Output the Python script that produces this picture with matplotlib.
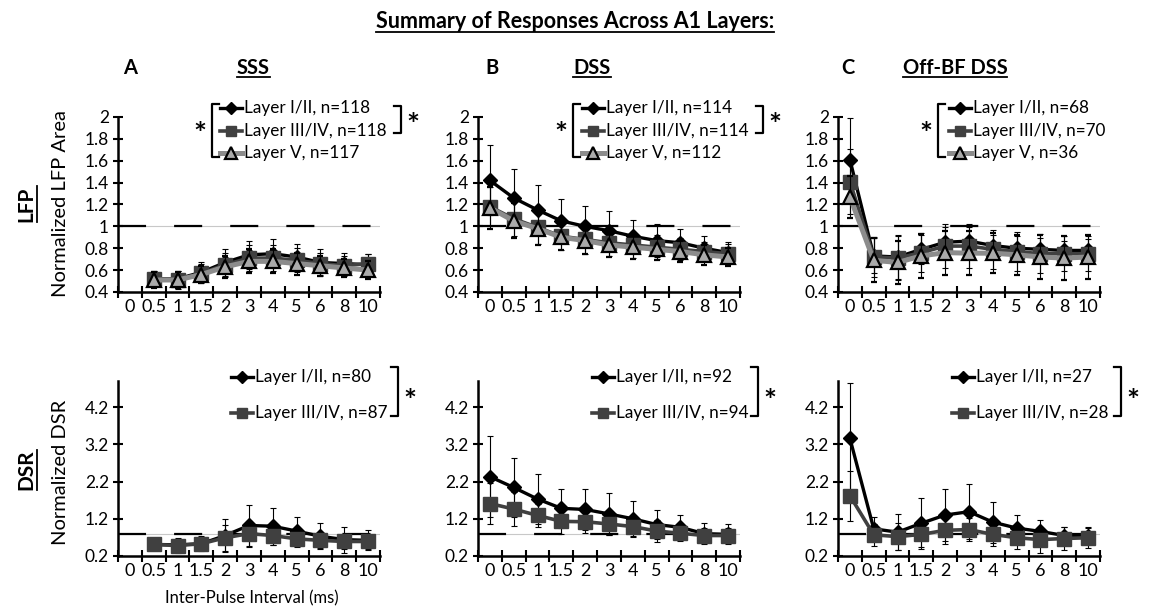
import numpy as np
import matplotlib
matplotlib.use("Agg")
import matplotlib.pyplot as plt
from matplotlib.lines import Line2D

plt.rcParams['font.family'] = ['Lato', 'DejaVu Sans']

W, H = 1149, 608
nan = np.nan

categories = ['0', '0.5', '1', '1.5', '2', '3', '4', '5', '6', '8', '10']

# ---- LFP (top row) ----
lfp_sss_l12 = [nan, 0.52, 0.52, 0.58, 0.67, 0.74, 0.75, 0.72, 0.67, 0.66, 0.65]
lfp_sss_l34 = [nan, 0.52, 0.51, 0.57, 0.65, 0.71, 0.71, 0.69, 0.66, 0.64, 0.66]
lfp_sss_l5 = [nan, 0.51, 0.51, 0.56, 0.63, 0.68, 0.68, 0.66, 0.64, 0.62, 0.60]
lfp_sss_e12 = [nan, 0.07, 0.07, 0.09, 0.12, 0.13, 0.13, 0.12, 0.12, 0.10, 0.10]
lfp_sss_e34 = [nan, 0.07, 0.08, 0.09, 0.11, 0.12, 0.12, 0.11, 0.10, 0.09, 0.09]
lfp_sss_e5 = [nan, 0.07, 0.07, 0.08, 0.10, 0.11, 0.11, 0.10, 0.09, 0.08, 0.08]

lfp_dss_l12 = [1.42, 1.26, 1.15, 1.05, 1.00, 0.96, 0.91, 0.87, 0.85, 0.80, 0.76]
lfp_dss_l34 = [1.18, 1.07, 0.99, 0.91, 0.88, 0.85, 0.83, 0.81, 0.79, 0.77, 0.75]
lfp_dss_l5 = [1.17, 1.05, 0.98, 0.90, 0.87, 0.83, 0.81, 0.79, 0.77, 0.74, 0.72]
lfp_dss_e12 = [0.32, 0.26, 0.23, 0.20, 0.19, 0.18, 0.15, 0.15, 0.13, 0.11, 0.10]
lfp_dss_e34 = [0.18, 0.16, 0.15, 0.13, 0.13, 0.12, 0.12, 0.11, 0.10, 0.09, 0.09]
lfp_dss_e5 = [0.19, 0.16, 0.15, 0.12, 0.12, 0.11, 0.11, 0.10, 0.10, 0.09, 0.08]

lfp_off_l12 = [1.61, 0.73, 0.72, 0.79, 0.855, 0.865, 0.825, 0.80, 0.79, 0.78, 0.78]
lfp_off_l34 = [1.41, 0.72, 0.71, 0.76, 0.82, 0.82, 0.79, 0.77, 0.75, 0.75, 0.75]
lfp_off_l5 = [1.27, 0.69, 0.67, 0.73, 0.76, 0.755, 0.755, 0.74, 0.72, 0.71, 0.72]
lfp_off_e12 = [0.38, 0.16, 0.20, 0.13, 0.14, 0.13, 0.10, 0.11, 0.10, 0.09, 0.10]
lfp_off_e34 = [0.30, 0.18, 0.20, 0.18, 0.20, 0.20, 0.18, 0.18, 0.18, 0.16, 0.16]
lfp_off_e5 = [0.19, 0.20, 0.20, 0.20, 0.20, 0.20, 0.18, 0.18, 0.20, 0.20, 0.20]

# ---- DSR (bottom row) ----
dsr_sss_l12 = [nan, 0.51, 0.50, 0.53, 0.75, 1.02, 1.00, 0.87, 0.73, 0.64, 0.62]
dsr_sss_l34 = [nan, 0.51, 0.48, 0.53, 0.69, 0.80, 0.75, 0.66, 0.62, 0.59, 0.59]
dsr_sss_e12 = [nan, 0.10, 0.15, 0.18, 0.45, 0.56, 0.50, 0.37, 0.35, 0.35, 0.27]
dsr_sss_e34 = [nan, 0.10, 0.20, 0.20, 0.35, 0.35, 0.25, 0.22, 0.20, 0.20, 0.20]

dsr_dss_l12 = [2.33, 2.04, 1.73, 1.48, 1.45, 1.33, 1.20, 1.045, 0.97, 0.80, 0.78]
dsr_dss_l34 = [1.61, 1.46, 1.29, 1.13, 1.12, 1.06, 0.99, 0.87, 0.81, 0.75, 0.75]
dsr_dss_e12 = [1.09, 0.80, 0.68, 0.53, 0.54, 0.57, 0.47, 0.40, 0.33, 0.29, 0.27]
dsr_dss_e34 = [0.55, 0.45, 0.32, 0.33, 0.30, 0.30, 0.28, 0.30, 0.22, 0.20, 0.20]

dsr_off_l12 = [3.36, 0.93, 0.84, 1.08, 1.30, 1.39, 1.11, 0.95, 0.86, 0.75, 0.75]
dsr_off_l34 = [1.82, 0.77, 0.72, 0.78, 0.89, 0.91, 0.78, 0.69, 0.64, 0.67, 0.69]
dsr_off_e12 = [1.48, 0.31, 0.49, 0.68, 0.70, 0.74, 0.55, 0.35, 0.31, 0.24, 0.21]
dsr_off_e34 = [0.67, 0.30, 0.37, 0.33, 0.36, 0.30, 0.30, 0.30, 0.35, 0.30, 0.28]

lfp_legend = [
    ['Layer I/II, n=118', 'Layer III/IV, n=118', 'Layer V, n=117'],
    ['Layer I/II, n=114', 'Layer III/IV, n=114', 'Layer V, n=112'],
    ['Layer I/II, n=68', 'Layer III/IV, n=70', 'Layer V, n=36'],
]
dsr_legend = [
    ['Layer I/II, n=80', 'Layer III/IV, n=87'],
    ['Layer I/II, n=92', 'Layer III/IV, n=94'],
    ['Layer I/II, n=27', 'Layer III/IV, n=28'],
]
col_titles = ['SSS', 'DSS', 'Off-BF DSS']
col_letters = ['A', 'B', 'C']
lfp_ticks = [0.4, 0.6, 0.8, 1.0, 1.2, 1.4, 1.6, 1.8, 2.0]
dsr_ticks = [0.2, 1.2, 2.2, 3.2, 4.2]

# ---- styles ----
S12 = dict(color='black', lw=2.4, marker='D', ms=7.5, mfc='black', mec='black', zorder=4)
S34 = dict(color='#404040', lw=2.6, marker='s', ms=9.5, mfc='#404040', mec='#404040', zorder=5)
S5 = dict(color='#8c8c8c', lw=3.6, marker='^', ms=10.5, mfc='#aaaaaa', mec='black', mew=1.6, zorder=6)
EB = dict(ecolor='black', elinewidth=0.8, capsize=2.2, capthick=0.8)

fig = plt.figure(figsize=(W / 100, H / 100), dpi=100)


def fx(px):
    return px / W


def fy(py):
    return 1 - py / H


col_left = [118, 478, 838]
ax_w = 262
rows = [(117, 292), (381, 556)]


def make_ax(col, row, ylim, ticks, refy):
    top, bot = rows[row]
    ax = fig.add_axes([fx(col_left[col]), fy(bot), ax_w / W, (bot - top) / H])
    ax.set_xlim(-0.5, len(categories) - 0.5)
    ax.set_ylim(*ylim)
    for s in ['top', 'right']:
        ax.spines[s].set_visible(False)
    for s in ['left', 'bottom']:
        ax.spines[s].set_linewidth(1.8)
    ax.set_xticks(np.arange(-0.5, len(categories), 1.0))
    ax.set_xticklabels([])
    ax.set_xticks(np.arange(len(categories)), minor=True)
    ax.set_xticklabels(categories, minor=True)
    ax.tick_params(axis='x', which='major', direction='inout', length=8, width=1.5)
    ax.tick_params(axis='x', which='minor', length=0, labelsize=13, pad=5)
    ax.set_yticks(ticks)
    ax.set_yticklabels(['%g' % t for t in ticks])
    ax.tick_params(axis='y', direction='inout', length=7, width=1.5, labelsize=12.5, pad=3)
    ax.axhline(refy, color='#c8c8c8', lw=0.8, zorder=1)
    d = 20.2 / 1.6
    ax.axhline(refy, color='black', lw=1.6, ls=(0, (d, d)), zorder=2)
    return ax


x = np.arange(len(categories))

lfp_sets = [
    (lfp_sss_l12, lfp_sss_e12, lfp_sss_l34, lfp_sss_e34, lfp_sss_l5, lfp_sss_e5),
    (lfp_dss_l12, lfp_dss_e12, lfp_dss_l34, lfp_dss_e34, lfp_dss_l5, lfp_dss_e5),
    (lfp_off_l12, lfp_off_e12, lfp_off_l34, lfp_off_e34, lfp_off_l5, lfp_off_e5),
]
dsr_sets = [
    (dsr_sss_l12, dsr_sss_e12, dsr_sss_l34, dsr_sss_e34),
    (dsr_dss_l12, dsr_dss_e12, dsr_dss_l34, dsr_dss_e34),
    (dsr_off_l12, dsr_off_e12, dsr_off_l34, dsr_off_e34),
]

for c in range(3):
    ax = make_ax(c, 0, (0.4, 2.0), lfp_ticks, 1.0)
    a12, e12, a34, e34, a5, e5 = lfp_sets[c]
    ax.errorbar(x, a12, yerr=e12, **S12, **EB)
    ax.errorbar(x, a34, yerr=e34, **S34, **EB)
    ax.errorbar(x, a5, yerr=e5, **S5, **EB)

    ax2 = make_ax(c, 1, (0.2, 4.9), dsr_ticks, 0.8)
    b12, f12, b34, f34 = dsr_sets[c]
    ax2.errorbar(x, b12, yerr=f12, **S12, **EB)
    ax2.errorbar(x, b34, yerr=f34, **S34, **EB)


# ---- legends (drawn in figure pixel coords) ----
def leg_entry(mx, my, style, text, fs=12.3):
    st = dict(style)
    st.pop('zorder', None)
    lw = st.pop('lw')
    ln = Line2D([fx(mx - 11), fx(mx + 11)], [fy(my), fy(my)], lw=lw, color=st.pop('color'),
                transform=fig.transFigure)
    fig.add_artist(ln)
    st['ms'] = st['ms'] * 0.8
    mk = Line2D([fx(mx)], [fy(my)], ls='none', transform=fig.transFigure, **st)
    fig.add_artist(mk)
    fig.text(fx(mx + 13), fy(my), text, fontsize=fs, va='center', ha='left')


def bracket(bx, y0, y1, arm, lw=1.6):
    ln = Line2D([fx(bx + arm), fx(bx), fx(bx), fx(bx + arm)],
                [fy(y0), fy(y0), fy(y1), fy(y1)], color='black', lw=lw,
                transform=fig.transFigure)
    fig.add_artist(ln)


def star(sx, sy):
    fig.text(fx(sx), fy(sy), '*', fontsize=22, ha='center', va='center', fontweight='bold')


top_mx = [231, 593, 960]
top_rows = [108, 131, 153]
lb_x = [212, 573, 938]
rb_x = [401, 763, None]
for c in range(3):
    for i, st in enumerate([S12, S34, S5]):
        leg_entry(top_mx[c], top_rows[i], st, lfp_legend[c][i])
    bracket(lb_x[c], top_rows[0] - 4, top_rows[2] + 4, 7)
    star(lb_x[c] - 12, 135)
    if rb_x[c] is not None:
        bracket(rb_x[c], top_rows[0] - 2, top_rows[1] + 2, -7)
        star(rb_x[c] + 12, 126)

bot_mx = [242, 603, 963]
bot_rows = [377, 413]
brb_x = [398, 758, 1121]
for c in range(3):
    for i, st in enumerate([S12, S34]):
        leg_entry(bot_mx[c], bot_rows[i], st, dsr_legend[c][i])
    bracket(brb_x[c], bot_rows[0] - 10, bot_rows[1] + 3, -7)
    star(brb_x[c] + 12, 402)

# ---- texts ----
under = []
under.append(fig.text(fx(575), fy(22), 'Summary of Responses Across A1 Layers:', fontsize=15.5,
                      fontweight='bold', ha='center', va='center'))
letters_x = [130, 492, 848]
titles_x = [253, 592, 955]
for c in range(3):
    fig.text(fx(letters_x[c]), fy(68), col_letters[c], fontsize=14.5, fontweight='bold',
             ha='center', va='center')
    under.append(fig.text(fx(titles_x[c]), fy(68), col_titles[c], fontsize=14.5,
                          fontweight='bold', ha='center', va='center'))

under.append(fig.text(fx(26), fy(204), 'LFP', fontsize=15, fontweight='bold', rotation=90,
                      ha='center', va='center'))
under.append(fig.text(fx(26), fy(470), 'DSR', fontsize=15, fontweight='bold', rotation=90,
                      ha='center', va='center'))
fig.text(fx(61), fy(204), 'Normalized LFP Area', fontsize=14.5, rotation=90,
         ha='center', va='center')
fig.text(fx(61), fy(472), 'Normalized DSR', fontsize=14.5, rotation=90,
         ha='center', va='center')
fig.text(fx(252), fy(598), 'Inter-Pulse Interval (ms)', fontsize=12, ha='center', va='center')

fig.canvas.draw()
r = fig.canvas.get_renderer()
for t in under:
    bb = t.get_window_extent(r)
    if t.get_rotation() == 90:
        xx = (bb.x1 + 1) / W
        ln = Line2D([xx, xx], [bb.y0 / H, bb.y1 / H], color='black', lw=1.3,
                    transform=fig.transFigure)
    else:
        yy = (bb.y0 + 1) / H
        ln = Line2D([bb.x0 / W, bb.x1 / W], [yy, yy], color='black', lw=1.3,
                    transform=fig.transFigure)
    fig.add_artist(ln)

fig.savefig('out.png', dpi=100)
